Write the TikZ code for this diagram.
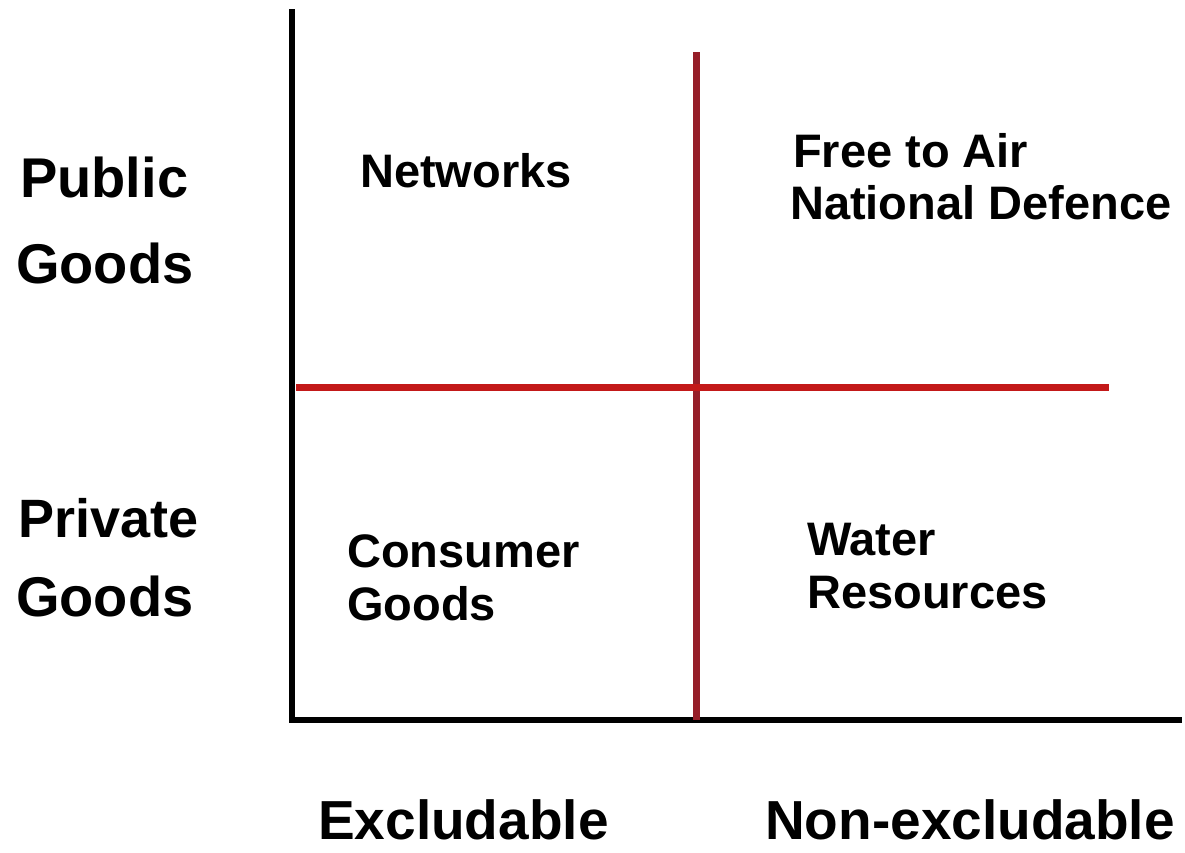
\documentclass[tikz,border=0pt]{standalone}
\usepackage{fontspec}
\setmainfont{Liberation Sans}
\definecolor{axisred}{RGB}{150,30,40}
\definecolor{splitred}{RGB}{195,25,25}
\begin{document}
\begin{tikzpicture}[x=1pt,y=-1pt,
  biglabel/.style={anchor=base west,inner sep=0pt,font=\fontsize{56}{60}\selectfont\bfseries},
  collabel/.style={anchor=base west,inner sep=0pt,font=\fontsize{55}{60}\selectfont\bfseries},
  celllabel/.style={anchor=base west,inner sep=0pt,font=\fontsize{47}{50}\selectfont\bfseries},
  axisline/.style={line width=6.5pt,black},
  quadline/.style={line width=7pt}]
\useasboundingbox[fill=white] (0,0) rectangle (1185,852);

% axis frame
\coordinate (ytop) at (292,9);
\coordinate (origin) at (292,720);
\coordinate (xend) at (1182,720);
\draw[axisline] (ytop) -- (origin) -- (xend);

% quadrant dividers
\coordinate (vtop) at (696,52);
\coordinate (vbot) at (696,720);
\coordinate (hleft) at (296,387);
\coordinate (hright) at (1109,387);
\draw[quadline,axisred] (vtop) -- (vbot);
\draw[quadline,splitred] (hleft) -- (hright);

% row labels
\node[biglabel] (pub1) at (20,197) {Public};
\node[biglabel] (pub2) at (16,283) {Goods};
\node[biglabel,font=\fontsize{54}{60}\selectfont\bfseries] (pri1) at (18,537) {Private};
\node[biglabel] (pri2) at (16,616) {Goods};

% column labels
\node[collabel] (excl) at (318,839) {Excludable};
\node[collabel] (nonexcl) at (765,839) {Non-excludable};

% quadrant contents
\node[celllabel] (net) at (360,187) {Networks};
\node[celllabel] (fta) at (793,167) {Free to Air};
\node[celllabel] (def) at (790,219) {National Defence};
\node[celllabel] (con1) at (347,567) {Consumer};
\node[celllabel] (con2) at (347,620) {Goods};
\node[celllabel] (wat1) at (807,555) {Water};
\node[celllabel] (wat2) at (807,608) {Resources};
\end{tikzpicture}
\end{document}
